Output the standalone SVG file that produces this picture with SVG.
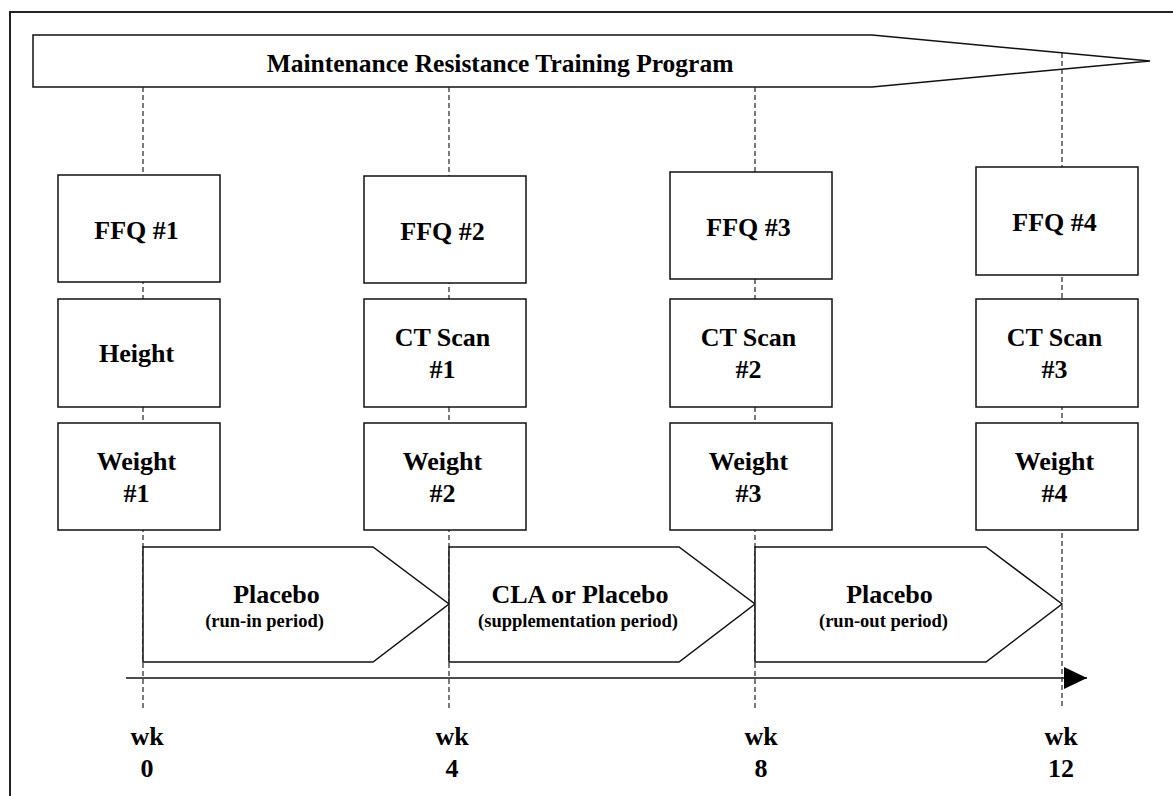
<svg xmlns="http://www.w3.org/2000/svg" width="1173" height="796" viewBox="0 0 1173 796">
<style>
  .frame{fill:none;stroke:#222;stroke-width:2}
  .shape{fill:#fff;stroke:#111;stroke-width:1.5}
  .dash{fill:none;stroke:#222;stroke-width:1.2;stroke-dasharray:5 3}
  .axis{fill:none;stroke:#111;stroke-width:1.5}
  text{font-family:"Liberation Serif","Times New Roman",serif;font-weight:bold;fill:#000;text-anchor:middle}
  .t{font-size:26px}
  .title{font-size:25.5px}
  .s{font-size:18.5px}
</style>
<defs>
  <marker id="ah" markerWidth="24" markerHeight="22" refX="23" refY="11" orient="auto" markerUnits="userSpaceOnUse">
    <path d="M0,0 L23,11 L0,22 Z" fill="#000"/>
  </marker>
</defs>
<rect class="frame" x="10" y="12" width="1175" height="800"/>
<g id="program">
  <path class="shape" d="M33,35 L872,35 L1150,61 L872,87 L33,87 Z"/>
  <text class="title" x="500" y="72">Maintenance Resistance Training Program</text>
</g>
<g id="connectors">
  <line class="dash" x1="143" y1="87" x2="143" y2="709"/>
  <line class="dash" x1="449" y1="87" x2="449" y2="709"/>
  <line class="dash" x1="755" y1="87" x2="755" y2="709"/>
  <line class="dash" x1="1062" y1="53" x2="1062" y2="709"/>
  <line class="axis" x1="126" y1="678" x2="1087" y2="678" marker-end="url(#ah)"/>
</g>
<g id="ffq1"><rect class="shape" x="58" y="175" width="162" height="107"/><text class="t" x="136.5" y="239">FFQ #1</text></g>
<g id="height"><rect class="shape" x="58" y="299" width="162" height="108"/><text class="t" x="136.5" y="362">Height</text></g>
<g id="weight1"><rect class="shape" x="58" y="423" width="162" height="107"/><text class="t" x="136.5" y="470">Weight</text><text class="t" x="136.5" y="502">#1</text></g>

<g id="ffq2"><rect class="shape" x="364" y="176" width="162" height="107"/><text class="t" x="442.5" y="240">FFQ #2</text></g>
<g id="ct1"><rect class="shape" x="364" y="299" width="162" height="108"/><text class="t" x="442.5" y="346">CT Scan</text><text class="t" x="442.5" y="378">#1</text></g>
<g id="weight2"><rect class="shape" x="364" y="423" width="162" height="107"/><text class="t" x="442.5" y="470">Weight</text><text class="t" x="442.5" y="502">#2</text></g>

<g id="ffq3"><rect class="shape" x="670" y="172" width="162" height="107"/><text class="t" x="748.5" y="236">FFQ #3</text></g>
<g id="ct2"><rect class="shape" x="670" y="299" width="162" height="108"/><text class="t" x="748.5" y="346">CT Scan</text><text class="t" x="748.5" y="378">#2</text></g>
<g id="weight3"><rect class="shape" x="670" y="423" width="162" height="107"/><text class="t" x="748.5" y="470">Weight</text><text class="t" x="748.5" y="502">#3</text></g>

<g id="ffq4"><rect class="shape" x="976" y="167" width="162" height="108"/><text class="t" x="1054.5" y="231">FFQ #4</text></g>
<g id="ct3"><rect class="shape" x="976" y="299" width="162" height="108"/><text class="t" x="1054.5" y="346">CT Scan</text><text class="t" x="1054.5" y="378">#3</text></g>
<g id="weight4"><rect class="shape" x="976" y="423" width="162" height="107"/><text class="t" x="1054.5" y="470">Weight</text><text class="t" x="1054.5" y="502">#4</text></g>

<g id="period1">
  <path class="shape" d="M143,547 L373,547 L449,604 L373,662 L143,662 Z"/>
  <text class="t" x="276.5" y="603">Placebo</text>
  <text class="s" x="264.5" y="627">(run-in period)</text>
</g>
<g id="period2">
  <path class="shape" d="M449,547 L679,547 L755,604 L679,662 L449,662 Z"/>
  <text class="t" x="580" y="603">CLA or Placebo</text>
  <text class="s" x="578" y="627">(supplementation period)</text>
</g>
<g id="period3">
  <path class="shape" d="M755,547 L986,547 L1062,604 L986,662 L755,662 Z"/>
  <text class="t" x="889.5" y="603">Placebo</text>
  <text class="s" x="883.5" y="627">(run-out period)</text>
</g>

<g id="wk0"><text class="t" x="147" y="745">wk</text><text class="t" x="147" y="777">0</text></g>
<g id="wk4"><text class="t" x="452" y="745">wk</text><text class="t" x="452" y="777">4</text></g>
<g id="wk8"><text class="t" x="761" y="745">wk</text><text class="t" x="761" y="777">8</text></g>
<g id="wk12"><text class="t" x="1061" y="745">wk</text><text class="t" x="1061" y="777">12</text></g>
</svg>
